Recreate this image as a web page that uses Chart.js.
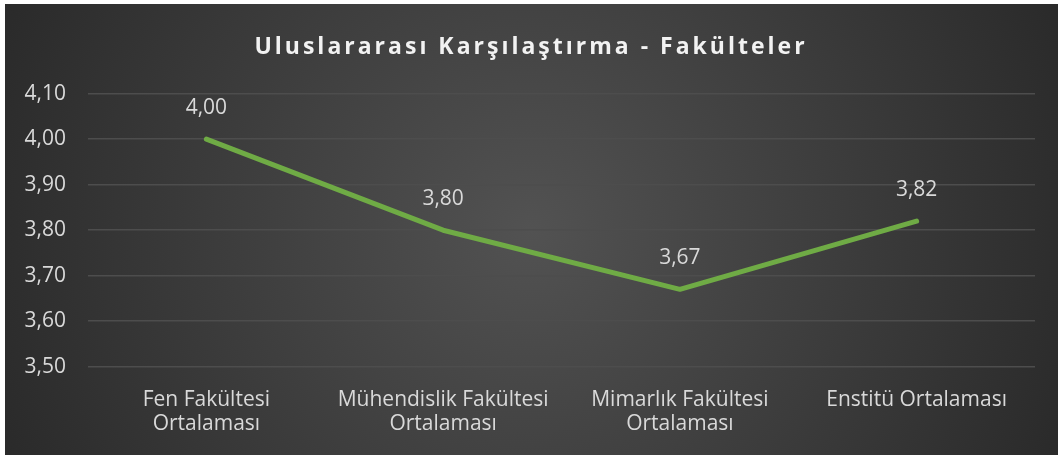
<!DOCTYPE html>
<html><head><meta charset="utf-8">
<script src="https://cdn.jsdelivr.net/npm/chart.js@4"></script>
<style>
html,body{margin:0;padding:0;background:#fff;}
#wrap{position:absolute;left:5px;top:4px;width:1053px;height:451px;}
</style></head><body>
<div id="wrap"><canvas id="c" width="1053" height="451"></canvas></div>
<script>
const categories = [["Fen Fakültesi","Ortalaması"],["Mühendislik Fakültesi","Ortalaması"],["Mimarlık Fakültesi","Ortalaması"],"Enstitü Ortalaması"];
const values = [4.00, 3.80, 3.67, 3.82];
const yTicks = [3.50, 3.60, 3.70, 3.80, 3.90, 4.00, 4.10];
const titleText = "Uluslararası Karşılaştırma - Fakülteler";
const fmt = v => v.toFixed(2).replace('.', ',');
const FONT = '"Open Sans", sans-serif';

const bgPlugin = {
  id: 'bg',
  beforeDraw(chart) {
    const ctx = chart.ctx, w = chart.width, h = chart.height;
    const g = ctx.createRadialGradient(w*0.5, h*0.5, 0, w*0.5, h*0.5, w*0.6);
    g.addColorStop(0, '#525252');
    g.addColorStop(1, '#262626');
    ctx.save(); ctx.fillStyle = g; ctx.fillRect(0,0,w,h);
    ctx.font = 'bold 23px ' + FONT;
    ctx.fillStyle = '#f2f2f2';
    ctx.textAlign = 'center'; ctx.textBaseline = 'middle';
    ctx.letterSpacing = '3px';
    ctx.fillText(titleText, 526, 43);
    ctx.restore();
  }
};
const labelPlugin = {
  id: 'dl',
  afterDatasetsDraw(chart) {
    const ctx = chart.ctx; const meta = chart.getDatasetMeta(0);
    ctx.save(); ctx.font = '21px ' + FONT; ctx.fillStyle = '#d9d9d9';
    ctx.textAlign = 'center'; ctx.textBaseline = 'middle';
    meta.data.forEach((p, i) => ctx.fillText(fmt(values[i]), p.x, p.y - 31));
    ctx.restore();
  }
};

new Chart(document.getElementById('c'), {
  type: 'line',
  data: { labels: categories, datasets: [{ data: values, borderColor: '#6fab45', borderWidth: 5, pointRadius: 0, tension: 0, borderCapStyle: 'round', borderJoinStyle: 'round' }] },
  options: {
    responsive: false, animation: false,
    layout: { padding: { left: 5, right: 23, top: 89.7, bottom: 0 } },
    plugins: { legend: { display: false }, tooltip: { enabled: false } },
    scales: {
      x: { offset: true, grid: { display: false }, border: { display: false },
           ticks: { color: '#d9d9d9', font: { family: FONT, size: 21, lineHeight: 1.15 }, padding: 13.5, maxRotation: 0, autoSkip: false },
           afterFit(s) { s.height = 88.3; } },
      y: { min: 3.5, max: 4.1, border: { display: false },
           grid: { color: '#4d4d4d', lineWidth: 1.5, drawTicks: false },
           afterBuildTicks(s) { s.ticks = yTicks.map(v => ({ value: v })); },
           ticks: { color: '#d9d9d9', font: { family: FONT, size: 21 }, padding: 22, callback: v => fmt(v) },
           afterFit(s) { s.width = 78; } }
    }
  },
  plugins: [bgPlugin, labelPlugin]
});
</script></body></html>
